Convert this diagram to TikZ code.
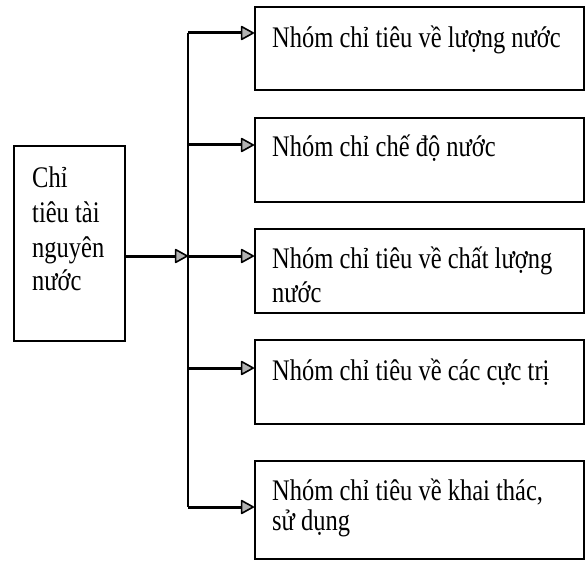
\documentclass[tikz,border=0pt]{standalone}
\usepackage{fontspec}
\setmainfont{Liberation Serif}
\usetikzlibrary{arrows.meta}
\newcommand{\tallt}[1]{\scalebox{1}[1.22]{#1}}
\begin{document}
\begin{tikzpicture}[x=1pt,y=-1pt,
  boxstyle/.style={draw=black,line width=2pt,inner sep=0pt,anchor=north west},
  txt/.style={anchor=base west,inner sep=0pt,font=\fontsize{24.5}{34}\selectfont},
  conn/.style={line width=3pt,-{Triangle[length=14pt,width=15pt,fill=gray!60,line width=1.6pt,round]}},
  trunk/.style={line width=2pt}]
\useasboundingbox (0,0) rectangle (585,561);
% boxes
\node[boxstyle,minimum width=111pt,minimum height=195pt] (L) at (13,145) {};
\node[boxstyle,minimum width=329pt,minimum height=83pt] (B1) at (254,6) {};
\node[boxstyle,minimum width=329pt,minimum height=84pt] (B2) at (254,117) {};
\node[boxstyle,minimum width=329pt,minimum height=84pt] (B3) at (254,228) {};
\node[boxstyle,minimum width=329pt,minimum height=84pt] (B4) at (254,339) {};
\node[boxstyle,minimum width=329pt,minimum height=98pt] (B5) at (254,460) {};
% texts
\node[txt] (t1) at (32,188) {\tallt{Chỉ}};
\node[txt] (t2) at (32,222) {\tallt{tiêu tài}};
\node[txt] (t3) at (32,257) {\tallt{nguyên}};
\node[txt] (t4) at (32,290) {\tallt{nước}};
\node[txt] (r1) at (272,48) {\tallt{Nhóm chỉ tiêu về lượng nước}};
\node[txt] (r2) at (272,157) {\tallt{Nhóm chỉ chế độ nước}};
\node[txt] (r3) at (272,268) {\tallt{Nhóm chỉ tiêu về chất lượng}};
\node[txt] (r3b) at (272,302) {\tallt{nước}};
\node[txt] (r4) at (272,380) {\tallt{Nhóm chỉ tiêu về các cực trị}};
\node[txt] (r5) at (272,500) {\tallt{Nhóm chỉ tiêu về khai thác,}};
\node[txt] (r5b) at (272,530) {\tallt{sử dụng}};
% junction coordinates
\coordinate (j1) at (188,33);
\coordinate (j2) at (188,145);
\coordinate (j3) at (188,256);
\coordinate (j4) at (188,368);
\coordinate (j5) at (188,507);
% trunk
\draw[trunk] (j1) -- (j5);
% connectors
\draw[conn] (L.east |- j3) -- (j3);
\draw[conn] (j1) -- (B1.west |- j1);
\draw[conn] (j2) -- (B2.west |- j2);
\draw[conn] (j3) -- (B3.west |- j3);
\draw[conn] (j4) -- (B4.west |- j4);
\draw[conn] (j5) -- (B5.west |- j5);
\end{tikzpicture}
\end{document}
